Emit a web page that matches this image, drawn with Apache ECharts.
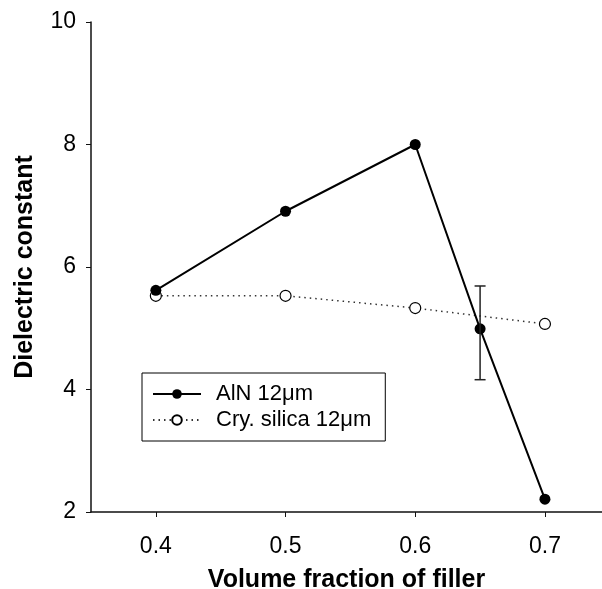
<!DOCTYPE html>
<html>
<head>
    <meta charset="utf-8">
    <title>Dielectric constant</title>
    <script src="https://cdn.jsdelivr.net/npm/echarts@6/dist/echarts.min.js"></script>
    <style>
        html, body { margin: 0; padding: 0; background: #fff; }
        #chart { width: 602px; height: 589px; }
    </style>
</head>
<body>
    <div id="chart"></div>
    <script>
        // data
        var alnX = [0.4, 0.5, 0.6, 0.65, 0.7];
        var alnY = [5.62, 6.91, 8.0, 4.99, 2.21];
        var silicaX = [0.4, 0.5, 0.6, 0.7];
        var silicaY = [5.53, 5.53, 5.33, 5.07];
        var errX = [0.65];
        var errLow = [4.16];
        var errHigh = [5.69];
        var xTicks = [0.4, 0.5, 0.6, 0.7];
        var yTicks = [2, 4, 6, 8, 10];

        function pairs(xs, ys) {
            var out = [];
            for (var i = 0; i < xs.length; i++) out.push([xs[i], ys[i]]);
            return out;
        }
        var errData = [];
        for (var i = 0; i < errX.length; i++) errData.push([errX[i], errLow[i], errHigh[i]]);

        var font = 'Liberation Sans, Arial, sans-serif';
        var myChart = echarts.init(document.getElementById('chart'));
        var option = {
            animation: false,
            backgroundColor: '#fff',
            grid: { left: 91, right: 0, top: 22, bottom: 77, containLabel: false, outerBoundsMode: 'none' },
            legend: {
                orient: 'vertical',
                left: 142,
                top: 373,
                itemWidth: 48,
                itemHeight: 12,
                itemGap: 4,
                padding: [10, 14, 10, 10],
                borderColor: '#000',
                borderWidth: 1,
                textStyle: { fontFamily: font, fontSize: 22, color: '#000', padding: [0, 0, 0, 10] },
                data: ['AlN 12μm', 'Cry. silica 12μm']
            },
            xAxis: {
                type: 'value',
                min: 0.35,
                max: 0.744,
                splitLine: { show: false },
                axisLine: { onZero: false, lineStyle: { color: '#111', width: 1.5 } },
                axisTick: { customValues: xTicks, length: 5, lineStyle: { color: '#111' } },
                axisLabel: {
                    customValues: xTicks,
                    margin: 23,
                    fontFamily: font, fontSize: 23, color: '#000',
                    formatter: function (v) { return v.toFixed(1); }
                },
                name: 'Volume fraction of filler',
                nameLocation: 'middle',
                nameGap: 56,
                nameTextStyle: { fontFamily: font, fontSize: 25, fontWeight: 'bold', color: '#000' }
            },
            yAxis: {
                type: 'value',
                min: 2,
                max: 10,
                splitLine: { show: false },
                axisLine: { onZero: false, lineStyle: { color: '#111', width: 1.5 } },
                axisTick: { customValues: yTicks, length: 5, lineStyle: { color: '#111' } },
                axisLabel: {
                    customValues: yTicks,
                    margin: 15,
                    fontFamily: font, fontSize: 23, color: '#000'
                },
                name: 'Dielectric constant',
                nameLocation: 'middle',
                nameGap: 53,
                nameTextStyle: { fontFamily: font, fontSize: 25, fontWeight: 'bold', color: '#000' }
            },
            series: [
                {
                    name: 'Cry. silica 12μm',
                    type: 'line',
                    data: pairs(silicaX, silicaY),
                    symbol: 'circle',
                    symbolSize: 11,
                    lineStyle: { color: '#333', width: 1.5, type: [1.5, 4] },
                    itemStyle: { color: '#fff', borderColor: '#000', borderWidth: 1.2 },
                    z: 2
                },
                {
                    name: 'AlN 12μm',
                    type: 'line',
                    data: pairs(alnX, alnY),
                    symbol: 'circle',
                    symbolSize: 11,
                    lineStyle: { color: '#000', width: 2 },
                    itemStyle: { color: '#000' },
                    z: 3
                },
                {
                    name: 'err',
                    type: 'custom',
                    data: errData,
                    z: 4,
                    renderItem: function (params, api) {
                        var lo = api.coord([api.value(0), api.value(1)]);
                        var hi = api.coord([api.value(0), api.value(2)]);
                        var hw = 5.5;
                        var st = { stroke: '#222', lineWidth: 1.5 };
                        return {
                            type: 'group',
                            children: [
                                { type: 'line', shape: { x1: lo[0], y1: lo[1], x2: hi[0], y2: hi[1] }, style: st },
                                { type: 'line', shape: { x1: lo[0] - hw, y1: lo[1], x2: lo[0] + hw, y2: lo[1] }, style: st },
                                { type: 'line', shape: { x1: hi[0] - hw, y1: hi[1], x2: hi[0] + hw, y2: hi[1] }, style: st }
                            ]
                        };
                    }
                }
            ]
        };
        myChart.setOption(option);
    </script>
</body>
</html>
